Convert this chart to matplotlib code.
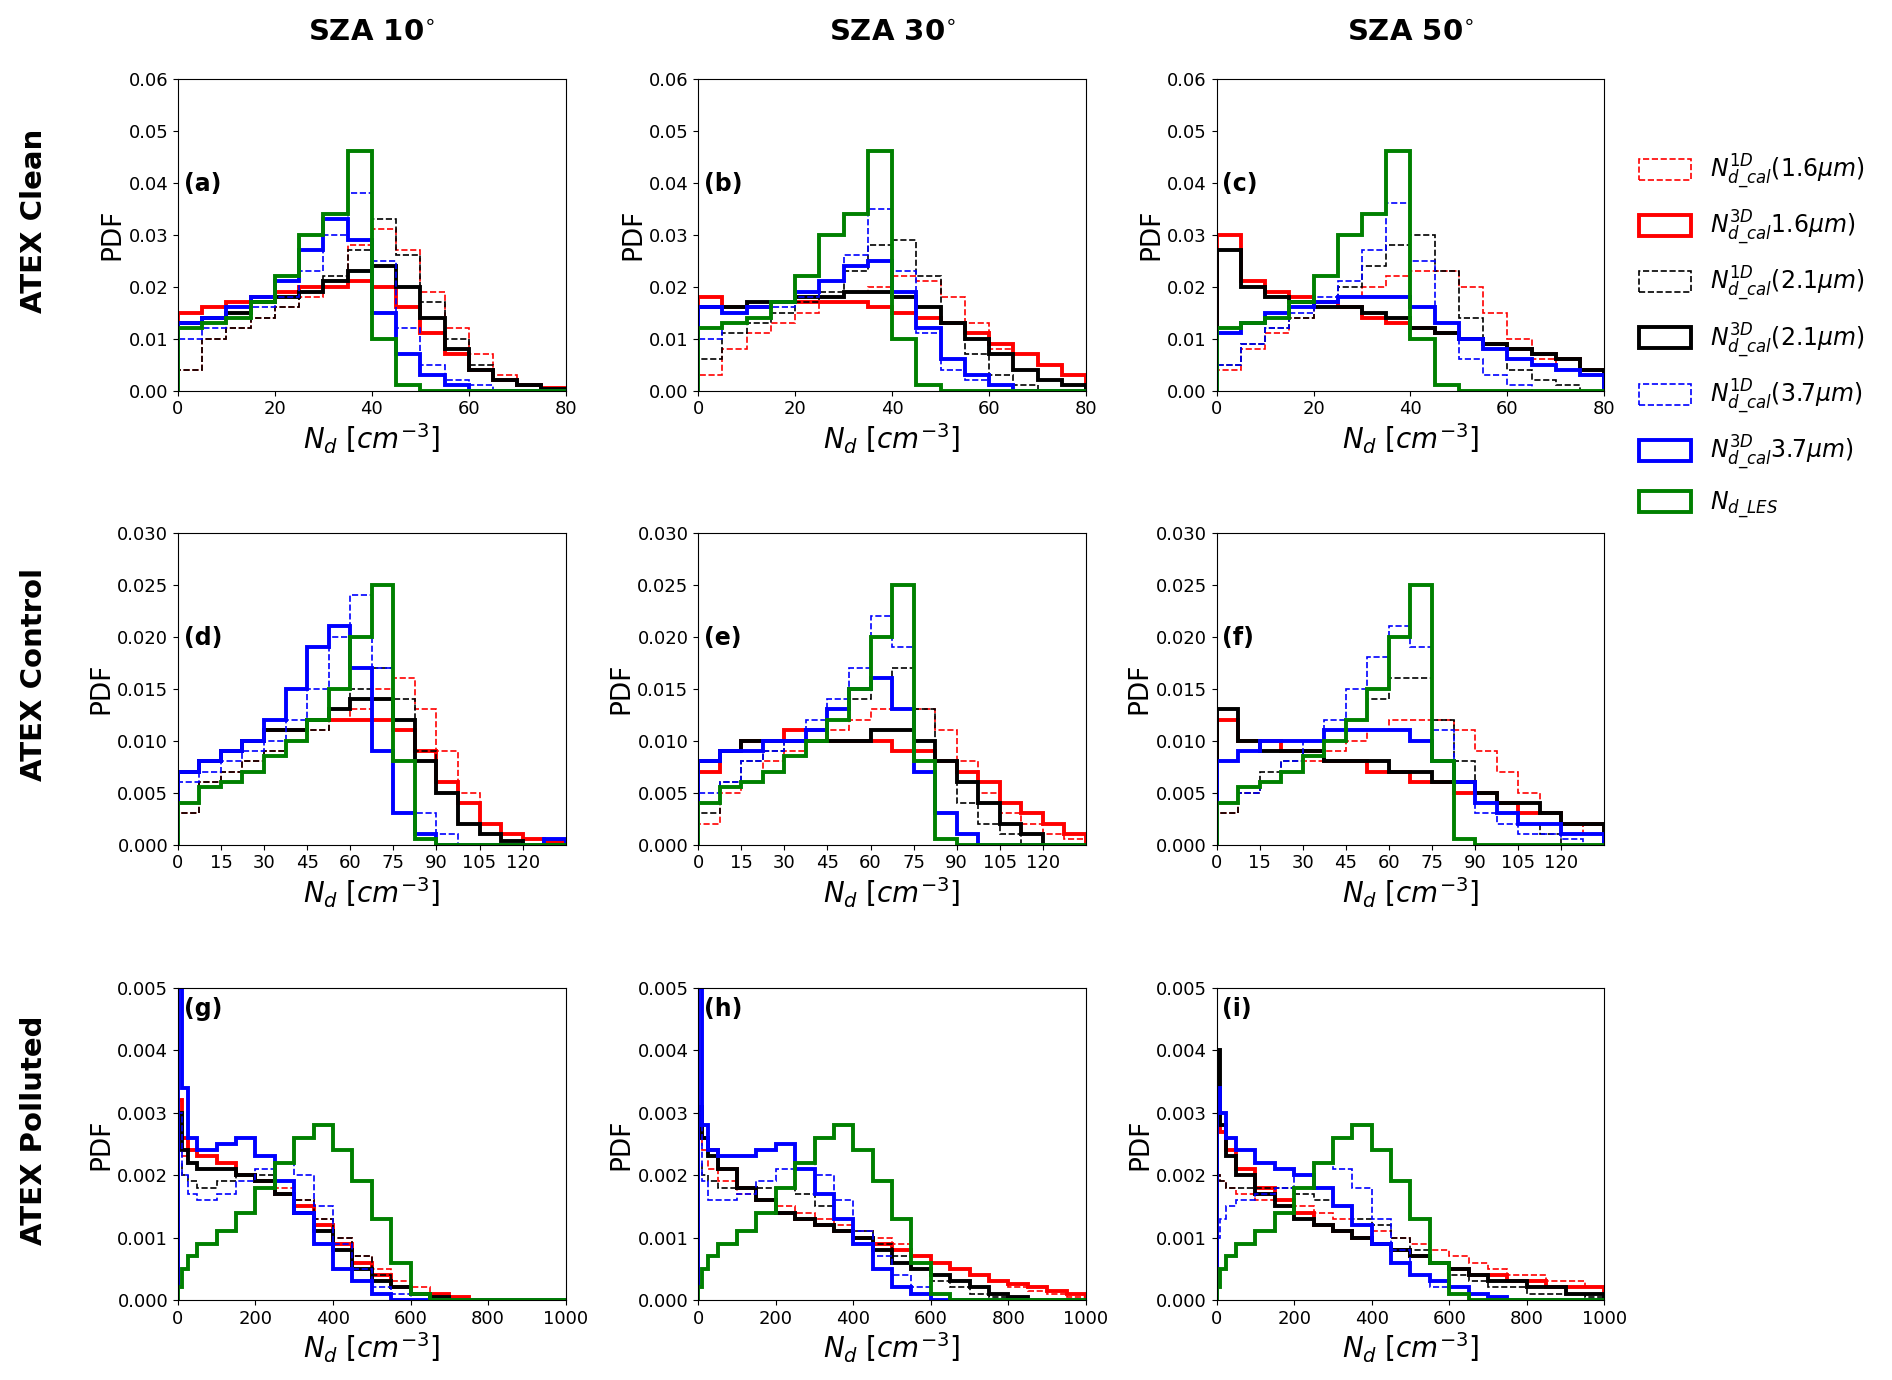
import matplotlib.pyplot as plt
from matplotlib.patches import Patch
import numpy as np

# bin edges per row
edges_clean = np.arange(0, 85, 5)
edges_control = np.arange(0, 142.5, 7.5)
edges_poll = np.array([0, 10, 25, 50] + list(range(100, 1050, 50)))

# LES is the same in every column of a row
les_clean = [0.012, 0.013, 0.014, 0.017, 0.022, 0.030, 0.034, 0.046, 0.010, 0.001, 0, 0, 0, 0, 0, 0]
les_control = [0.004, 0.0055, 0.006, 0.007, 0.0085, 0.010, 0.012, 0.015, 0.020, 0.025, 0.008, 0.0005, 0, 0, 0, 0, 0, 0]
les_poll = [0.0002, 0.0005, 0.0007, 0.0009, 0.0011, 0.0014, 0.0018, 0.0022, 0.0026, 0.0028, 0.0024, 0.0019,
            0.0013, 0.0006, 0.0001, 0, 0, 0, 0, 0, 0, 0]

# series: r1 = 1D 1.6, r3 = 3D 1.6, k1/k3 = 2.1, b1/b3 = 3.7
a_r1 = [0.004, 0.010, 0.012, 0.014, 0.016, 0.018, 0.021, 0.028, 0.031, 0.027, 0.019, 0.012, 0.007, 0.003, 0.001, 0.0005]
a_r3 = [0.015, 0.016, 0.017, 0.018, 0.019, 0.020, 0.020, 0.021, 0.020, 0.016, 0.011, 0.007, 0.004, 0.002, 0.001, 0.0005]
a_k1 = [0.004, 0.010, 0.012, 0.014, 0.016, 0.019, 0.022, 0.027, 0.033, 0.026, 0.017, 0.010, 0.005, 0.002, 0.001, 0.0003]
a_k3 = [0.013, 0.014, 0.015, 0.017, 0.018, 0.019, 0.021, 0.023, 0.024, 0.020, 0.014, 0.008, 0.004, 0.002, 0.001, 0.0003]
a_b1 = [0.010, 0.012, 0.014, 0.016, 0.018, 0.023, 0.030, 0.038, 0.025, 0.012, 0.005, 0.002, 0.001, 0, 0, 0]
a_b3 = [0.013, 0.014, 0.016, 0.018, 0.021, 0.027, 0.033, 0.029, 0.015, 0.007, 0.003, 0.001, 0, 0, 0, 0]

b_r1 = [0.003, 0.008, 0.011, 0.013, 0.015, 0.017, 0.019, 0.020, 0.022, 0.021, 0.018, 0.013, 0.008, 0.004, 0.002, 0.001]
b_r3 = [0.018, 0.016, 0.016, 0.017, 0.017, 0.017, 0.017, 0.016, 0.015, 0.014, 0.013, 0.011, 0.009, 0.007, 0.005, 0.003]
b_k1 = [0.006, 0.011, 0.013, 0.015, 0.017, 0.019, 0.023, 0.028, 0.029, 0.022, 0.013, 0.007, 0.003, 0.001, 0, 0]
b_k3 = [0.016, 0.016, 0.017, 0.017, 0.018, 0.018, 0.019, 0.019, 0.018, 0.016, 0.013, 0.010, 0.007, 0.004, 0.002, 0.001]
b_b1 = [0.010, 0.013, 0.014, 0.016, 0.018, 0.021, 0.026, 0.035, 0.023, 0.011, 0.004, 0.002, 0, 0, 0, 0]
b_b3 = [0.016, 0.015, 0.016, 0.017, 0.019, 0.021, 0.024, 0.025, 0.019, 0.012, 0.006, 0.003, 0.001, 0, 0, 0]

c_r1 = [0.004, 0.008, 0.011, 0.014, 0.016, 0.018, 0.020, 0.022, 0.023, 0.023, 0.020, 0.015, 0.010, 0.006, 0.004, 0.003]
c_r3 = [0.030, 0.021, 0.019, 0.018, 0.017, 0.016, 0.014, 0.013, 0.012, 0.011, 0.010, 0.009, 0.008, 0.007, 0.006, 0.004]
c_k1 = [0.005, 0.009, 0.012, 0.014, 0.017, 0.020, 0.024, 0.028, 0.030, 0.023, 0.014, 0.008, 0.004, 0.002, 0.001, 0]
c_k3 = [0.027, 0.020, 0.018, 0.017, 0.016, 0.016, 0.015, 0.014, 0.012, 0.011, 0.010, 0.009, 0.008, 0.007, 0.006, 0.004]
c_b1 = [0.005, 0.009, 0.012, 0.015, 0.018, 0.021, 0.027, 0.036, 0.025, 0.013, 0.006, 0.003, 0.001, 0, 0, 0]
c_b3 = [0.011, 0.013, 0.015, 0.016, 0.017, 0.018, 0.018, 0.018, 0.016, 0.013, 0.010, 0.008, 0.006, 0.005, 0.004, 0.003]

d_r1 = [0.003, 0.006, 0.007, 0.008, 0.009, 0.010, 0.011, 0.012, 0.013, 0.015, 0.016, 0.013, 0.009, 0.005, 0.002, 0.001, 0.0005, 0.0002]
d_r3 = [0.007, 0.008, 0.009, 0.010, 0.011, 0.011, 0.012, 0.012, 0.012, 0.012, 0.011, 0.009, 0.006, 0.004, 0.002, 0.001, 0.0005, 0.0002]
d_k1 = [0.003, 0.006, 0.007, 0.008, 0.009, 0.010, 0.011, 0.013, 0.015, 0.017, 0.014, 0.009, 0.005, 0.002, 0.001, 0.0003, 0, 0]
d_k3 = [0.007, 0.008, 0.009, 0.010, 0.011, 0.011, 0.012, 0.013, 0.014, 0.014, 0.012, 0.008, 0.005, 0.002, 0.001, 0.0003, 0, 0]
d_b1 = [0.006, 0.007, 0.008, 0.009, 0.010, 0.012, 0.015, 0.020, 0.024, 0.017, 0.008, 0.003, 0.001, 0, 0, 0, 0, 0]
d_b3 = [0.007, 0.008, 0.009, 0.010, 0.012, 0.015, 0.019, 0.021, 0.017, 0.009, 0.003, 0.001, 0, 0, 0, 0, 0, 0.0005]

e_r1 = [0.002, 0.005, 0.006, 0.008, 0.009, 0.010, 0.011, 0.012, 0.013, 0.013, 0.013, 0.011, 0.008, 0.005, 0.003, 0.002, 0.001, 0.0005]
e_r3 = [0.007, 0.009, 0.010, 0.010, 0.011, 0.011, 0.010, 0.010, 0.010, 0.009, 0.009, 0.008, 0.007, 0.006, 0.004, 0.003, 0.002, 0.001]
e_k1 = [0.003, 0.006, 0.008, 0.009, 0.010, 0.011, 0.012, 0.014, 0.016, 0.017, 0.013, 0.008, 0.004, 0.002, 0.001, 0, 0, 0]
e_k3 = [0.008, 0.009, 0.010, 0.010, 0.010, 0.010, 0.010, 0.010, 0.011, 0.011, 0.010, 0.008, 0.006, 0.004, 0.002, 0.001, 0, 0]
e_b1 = [0.005, 0.006, 0.008, 0.009, 0.010, 0.012, 0.014, 0.017, 0.022, 0.019, 0.008, 0.003, 0.001, 0, 0, 0, 0, 0]
e_b3 = [0.008, 0.009, 0.009, 0.010, 0.010, 0.011, 0.013, 0.015, 0.016, 0.013, 0.007, 0.003, 0.001, 0, 0, 0, 0, 0]

f_r1 = [0.003, 0.005, 0.006, 0.007, 0.008, 0.009, 0.010, 0.011, 0.012, 0.012, 0.012, 0.011, 0.009, 0.007, 0.005, 0.003, 0.002, 0.001]
f_r3 = [0.012, 0.010, 0.010, 0.009, 0.009, 0.008, 0.008, 0.007, 0.007, 0.006, 0.006, 0.005, 0.005, 0.004, 0.003, 0.003, 0.002, 0.002]
f_k1 = [0.003, 0.005, 0.007, 0.008, 0.009, 0.011, 0.012, 0.014, 0.016, 0.016, 0.012, 0.008, 0.005, 0.003, 0.002, 0.001, 0, 0]
f_k3 = [0.013, 0.010, 0.009, 0.009, 0.009, 0.008, 0.008, 0.008, 0.007, 0.007, 0.006, 0.006, 0.005, 0.004, 0.004, 0.003, 0.002, 0.002]
f_b1 = [0.004, 0.005, 0.006, 0.008, 0.010, 0.012, 0.015, 0.018, 0.021, 0.019, 0.011, 0.006, 0.003, 0.002, 0.001, 0.001, 0.0005, 0]
f_b3 = [0.008, 0.009, 0.010, 0.010, 0.010, 0.011, 0.011, 0.011, 0.011, 0.010, 0.008, 0.006, 0.004, 0.003, 0.002, 0.002, 0.001, 0.001]

g_r1 = [0.0024, 0.0023, 0.0022, 0.0021, 0.0021, 0.0020, 0.0019, 0.0018, 0.0016, 0.0013, 0.0010, 0.0007, 0.0005, 0.0003, 0.0002, 0.0001, 0.00005, 0, 0, 0, 0, 0]
g_r3 = [0.0032, 0.0026, 0.0024, 0.0023, 0.0022, 0.0020, 0.0019, 0.0017, 0.0015, 0.0012, 0.0009, 0.0006, 0.0004, 0.0002, 0.0001, 0.0001, 0.00005, 0, 0, 0, 0, 0]
g_k1 = [0.0022, 0.0020, 0.0019, 0.0018, 0.0019, 0.0020, 0.0020, 0.0019, 0.0016, 0.0013, 0.0010, 0.0007, 0.0004, 0.0002, 0.0001, 0.00005, 0, 0, 0, 0, 0, 0]
g_k3 = [0.0030, 0.0024, 0.0022, 0.0021, 0.0021, 0.0020, 0.0019, 0.0017, 0.0014, 0.0011, 0.0008, 0.0005, 0.0003, 0.0002, 0.0001, 0.00005, 0, 0, 0, 0, 0, 0]
g_b1 = [0.0030, 0.0020, 0.0017, 0.0016, 0.0017, 0.0019, 0.0021, 0.0022, 0.0020, 0.0015, 0.0009, 0.0005, 0.0002, 0.0001, 0, 0, 0, 0, 0, 0, 0, 0]
g_b3 = [0.0050, 0.0034, 0.0026, 0.0024, 0.0025, 0.0026, 0.0023, 0.0019, 0.0014, 0.0009, 0.0005, 0.0003, 0.0001, 0, 0, 0, 0, 0, 0, 0, 0, 0]

h_r1 = [0.0026, 0.0024, 0.0021, 0.0019, 0.0017, 0.0016, 0.0015, 0.0014, 0.0013, 0.0012, 0.0011, 0.0010, 0.0009, 0.0007, 0.0006, 0.0005, 0.0004, 0.0003, 0.0002, 0.00015, 0.0001, 0.00005]
h_r3 = [0.0030, 0.0026, 0.0024, 0.0021, 0.0018, 0.0016, 0.0014, 0.0013, 0.0012, 0.0011, 0.0010, 0.0009, 0.0008, 0.0007, 0.0006, 0.0005, 0.0004, 0.0003, 0.00025, 0.0002, 0.00015, 0.0001]
h_k1 = [0.0022, 0.0020, 0.0019, 0.0018, 0.0018, 0.0018, 0.0018, 0.0017, 0.0015, 0.0013, 0.0011, 0.0009, 0.0007, 0.0005, 0.0003, 0.0002, 0.0001, 0.00005, 0, 0, 0, 0]
h_k3 = [0.0031, 0.0026, 0.0023, 0.0021, 0.0018, 0.0016, 0.0014, 0.0013, 0.0012, 0.0011, 0.0010, 0.0008, 0.0006, 0.0005, 0.0004, 0.0003, 0.0002, 0.0001, 0.00005, 0, 0, 0]
h_b1 = [0.0030, 0.0019, 0.0016, 0.0016, 0.0017, 0.0019, 0.0021, 0.0022, 0.0020, 0.0016, 0.0011, 0.0007, 0.0004, 0.0002, 0.0001, 0, 0, 0, 0, 0, 0, 0]
h_b3 = [0.0050, 0.0028, 0.0024, 0.0023, 0.0023, 0.0024, 0.0025, 0.0021, 0.0017, 0.0013, 0.0009, 0.0005, 0.0002, 0.0001, 0, 0, 0, 0, 0, 0, 0, 0]

i_r1 = [0.0020, 0.0019, 0.0018, 0.0017, 0.0016, 0.0015, 0.0015, 0.0014, 0.0013, 0.0012, 0.0011, 0.0010, 0.0009, 0.0008, 0.0007, 0.0006, 0.0005, 0.0004, 0.0004, 0.0003, 0.0003, 0.0002]
i_r3 = [0.0032, 0.0027, 0.0024, 0.0021, 0.0018, 0.0016, 0.0014, 0.0012, 0.0011, 0.0010, 0.0009, 0.0008, 0.0007, 0.0006, 0.0005, 0.0004, 0.0004, 0.0003, 0.0003, 0.0002, 0.0002, 0.0002]
i_k1 = [0.0020, 0.0019, 0.0018, 0.0018, 0.0018, 0.0018, 0.0017, 0.0016, 0.0015, 0.0013, 0.0012, 0.0010, 0.0008, 0.0006, 0.0004, 0.0003, 0.0002, 0.0002, 0.0001, 0.0001, 0.0001, 0.00005]
i_k3 = [0.0040, 0.0028, 0.0023, 0.0020, 0.0017, 0.0015, 0.0013, 0.0012, 0.0011, 0.0010, 0.0009, 0.0008, 0.0007, 0.0006, 0.0005, 0.0004, 0.0003, 0.0003, 0.0002, 0.0002, 0.0001, 0.0001]
i_b1 = [0.0010, 0.0013, 0.0015, 0.0016, 0.0017, 0.0018, 0.0020, 0.0022, 0.0021, 0.0018, 0.0013, 0.0008, 0.0004, 0.0002, 0.0001, 0, 0, 0, 0, 0, 0, 0]
i_b3 = [0.0034, 0.0030, 0.0026, 0.0024, 0.0022, 0.0021, 0.0020, 0.0018, 0.0015, 0.0012, 0.0009, 0.0006, 0.0004, 0.0003, 0.0002, 0.0001, 0.00005, 0, 0, 0, 0, 0]

col_titles = ['SZA 10$^{\\circ}$', 'SZA 30$^{\\circ}$', 'SZA 50$^{\\circ}$']
row_titles = ['ATEX Clean', 'ATEX Control', 'ATEX Polluted']
letters = 'abcdefghi'

panels = {
    'a': [a_r1, a_r3, a_k1, a_k3, a_b1, a_b3], 'b': [b_r1, b_r3, b_k1, b_k3, b_b1, b_b3],
    'c': [c_r1, c_r3, c_k1, c_k3, c_b1, c_b3], 'd': [d_r1, d_r3, d_k1, d_k3, d_b1, d_b3],
    'e': [e_r1, e_r3, e_k1, e_k3, e_b1, e_b3], 'f': [f_r1, f_r3, f_k1, f_k3, f_b1, f_b3],
    'g': [g_r1, g_r3, g_k1, g_k3, g_b1, g_b3], 'h': [h_r1, h_r3, h_k1, h_k3, h_b1, h_b3],
    'i': [i_r1, i_r3, i_k1, i_k3, i_b1, i_b3],
}
rows = [
    dict(edges=edges_clean, les=les_clean, xlim=(0, 80), xticks=np.arange(0, 81, 20),
         ylim=(0, 0.06), yticks=np.arange(0, 0.061, 0.01), fmt='%.2f'),
    dict(edges=edges_control, les=les_control, xlim=(0, 135), xticks=np.arange(0, 121, 15),
         ylim=(0, 0.03), yticks=np.arange(0, 0.0301, 0.005), fmt='%.3f'),
    dict(edges=edges_poll, les=les_poll, xlim=(0, 1000), xticks=np.arange(0, 1001, 200),
         ylim=(0, 0.005), yticks=np.arange(0, 0.00501, 0.001), fmt='%.3f'),
]

styles = [('red', '--', 1.2), ('red', '-', 2.8), ('black', '--', 1.2),
          ('black', '-', 2.8), ('blue', '--', 1.2), ('blue', '-', 2.8)]
labels = [r'$N^{1D}_{d\_cal}$(1.6$\mu m$)', r'$N^{3D}_{d\_cal}$1.6$\mu m$)',
          r'$N^{1D}_{d\_cal}$(2.1$\mu m$)', r'$N^{3D}_{d\_cal}$(2.1$\mu m$)',
          r'$N^{1D}_{d\_cal}$(3.7$\mu m$)', r'$N^{3D}_{d\_cal}$3.7$\mu m$)', r'$N_{d\_LES}$']

fig = plt.figure(figsize=(18.92, 13.8), dpi=100)
lefts = [0.094, 0.369, 0.643]
bottoms = [0.717, 0.388, 0.058]
w, h = 0.205, 0.226

for r, row in enumerate(rows):
    for c in range(3):
        k = letters[r * 3 + c]
        ax = fig.add_axes([lefts[c], bottoms[r], w, h])
        for vals, (col, ls, lw) in zip(panels[k], styles):
            ax.stairs(vals, row['edges'], color=col, linestyle=ls, linewidth=lw)
        ax.stairs(row['les'], row['edges'], color='green', linewidth=2.8)
        ax.set_xlim(row['xlim'])
        ax.set_ylim(row['ylim'])
        ax.set_xticks(row['xticks'])
        ax.set_yticks(row['yticks'])
        ax.set_yticklabels([row['fmt'] % v for v in row['yticks']])
        ax.tick_params(labelsize=13)
        ax.set_xlabel(r'$N_d\ [cm^{-3}]$', fontsize=20, labelpad=2)
        ax.set_ylabel('PDF', fontsize=19, labelpad=2)
        ytxt = 0.97 if r == 2 else 0.7
        ax.text(0.015, ytxt, '(%s)' % k, transform=ax.transAxes, fontsize=17,
                fontweight='bold', va='top')
        if r == 0:
            ax.set_title(col_titles[c], fontsize=21, fontweight='bold', pad=28)
        if c == 0:
            fig.text(0.018, bottoms[r] + h / 2 + 0.01, row_titles[r], rotation=90,
                     fontsize=21, fontweight='bold', ha='center', va='center')

handles = [Patch(facecolor='none', edgecolor=col, linestyle=ls, linewidth=lw)
           for col, ls, lw in styles] + [Patch(facecolor='none', edgecolor='green', linewidth=2.8)]
fig.legend(handles, labels, loc='upper left', bbox_to_anchor=(0.855, 0.905),
           frameon=False, fontsize=17, handlelength=2.2, handleheight=1.0, labelspacing=0.75)

fig.savefig('out.png', dpi=100)
